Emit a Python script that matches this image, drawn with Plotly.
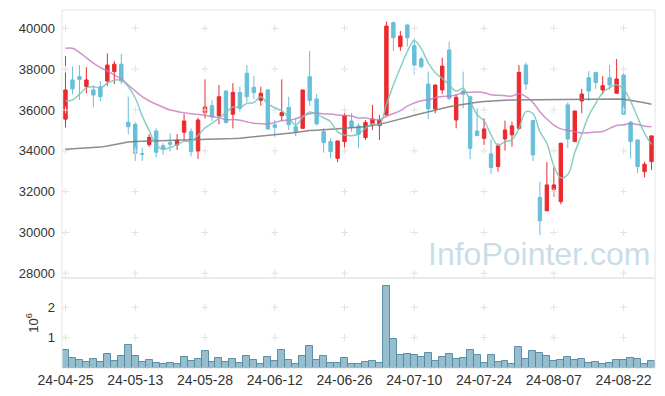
import plotly.graph_objects as go

dates = ["24-04-25","24-04-26","24-04-29","24-04-30","24-05-02","24-05-03","24-05-07","24-05-08","24-05-09","24-05-10",
         "24-05-13","24-05-14","24-05-16","24-05-17","24-05-20","24-05-21","24-05-22","24-05-23","24-05-24","24-05-27",
         "24-05-28","24-05-29","24-05-30","24-05-31","24-06-03","24-06-04","24-06-05","24-06-07","24-06-10","24-06-11",
         "24-06-12","24-06-13","24-06-14","24-06-17","24-06-18","24-06-19","24-06-20","24-06-21","24-06-24","24-06-25",
         "24-06-26","24-06-27","24-06-28","24-07-01","24-07-02","24-07-03","24-07-04","24-07-05","24-07-08","24-07-09",
         "24-07-10","24-07-11","24-07-12","24-07-15","24-07-16","24-07-17","24-07-18","24-07-19","24-07-22","24-07-23",
         "24-07-24","24-07-25","24-07-26","24-07-29","24-07-30","24-07-31","24-08-01","24-08-02","24-08-05","24-08-06",
         "24-08-07","24-08-08","24-08-09","24-08-12","24-08-13","24-08-14","24-08-16","24-08-19","24-08-20","24-08-21",
         "24-08-22","24-08-23","24-08-26","24-08-27","24-08-28"]

open_ = [35550, 37470, 37630, 37140, 36980, 37140, 37420, 37880, 38240, 35400,
         35300, 33860, 34300, 34970, 34250, 34400, 34290, 34910, 34940, 33990,
         35870, 36210, 35720, 36930, 35790, 36860, 37800, 37110, 36470, 36980,
         35270, 35720, 36130, 35180, 35100, 37630, 36540, 34940, 34450, 33630,
         34450, 35460, 35220, 34650, 35320, 35230, 35760, 40280, 39100, 40160,
         39150, 38500, 37270, 36050, 36980, 38940, 35510, 36930, 36650, 34970,
         34610, 33850, 33230, 34580, 34780, 35100, 38200, 35490, 31720, 31060,
         32100, 31510, 36250, 34450, 36440, 37580, 37830, 36980, 37580, 36820,
         37710, 35400, 34530, 32980, 33470]
high_ = [38650, 38120, 38200, 38090, 37220, 37420, 38770, 38400, 38740, 36650,
         35400, 34150, 34810, 35100, 34370, 34860, 34820, 35820, 35100, 35620,
         37500, 36490, 37220, 36950, 37310, 37140, 38200, 37660, 37140, 37030,
         35510, 37500, 36650, 35620, 36990, 38890, 36770, 35100, 34610, 34500,
         36000, 35840, 35350, 35510, 36250, 35760, 40330, 40330, 39870, 40190,
         39510, 38610, 37880, 37240, 38560, 39350, 36780, 37880, 36700, 36080,
         35590, 34560, 34370, 35480, 35430, 38200, 38320, 35500, 32490, 33440,
         33180, 34400, 36380, 35960, 37030, 37910, 37880, 37660, 38200, 38500,
         37800, 35460, 34550, 33470, 34740]
low_ = [35150, 36770, 36490, 36820, 36130, 36440, 37180, 37270, 37270, 34810,
        33500, 33500, 34200, 33670, 33800, 33960, 34040, 34520, 33720, 33600,
        35590, 35460, 35300, 35350, 35100, 35920, 36380, 36520, 36210, 35020,
        34690, 35460, 35020, 34730, 35100, 36210, 35230, 33910, 33630, 33440,
        33990, 34940, 34150, 34530, 35020, 34530, 35700, 38890, 38900, 39100,
        37750, 38040, 35560, 35840, 36780, 36490, 35100, 36080, 33590, 34740,
        34290, 32870, 32980, 34010, 34200, 35020, 36980, 33500, 29880, 31050,
        31760, 31380, 34120, 34440, 35840, 36440, 37030, 36770, 36980, 36800,
        35780, 33630, 32900, 32700, 33060]
close_ = [36980, 37030, 37500, 37470, 36730, 36650, 38200, 38240, 37420, 35180,
          33880, 33830, 34660, 33930, 34070, 34320, 34530, 35460, 33960, 35510,
          36150, 35670, 36650, 35380, 36860, 36080, 36650, 36850, 36820, 35070,
          35150, 35870, 35270, 34940, 36980, 36460, 35320, 34400, 33960, 34480,
          35720, 35140, 34810, 35380, 35560, 35510, 40110, 39540, 39620, 39540,
          38200, 38120, 36050, 37220, 38150, 36570, 36620, 36770, 34120, 34740,
          35070, 33180, 34240, 35020, 35220, 37840, 37270, 33800, 30570, 32330,
          32330, 34370, 34580, 35950, 36780, 36930, 37340, 37190, 37220, 37520,
          35790, 34450, 33230, 33340, 34730]

# volume in millions of shares
volume_m = [0.585, 0.332, 0.256, 0.19, 0.29, 0.19, 0.453, 0.223, 0.398, 0.75,
            0.398, 0.19, 0.256, 0.157, 0.125, 0.157, 0.125, 0.355, 0.223, 0.29,
            0.552, 0.19, 0.322, 0.19, 0.29, 0.157, 0.388, 0.256, 0.125, 0.355,
            0.223, 0.585, 0.256, 0.125, 0.388, 0.717, 0.256, 0.388, 0.157, 0.157,
            0.322, 0.125, 0.125, 0.19, 0.223, 0.157, 2.69, 0.947, 0.42, 0.453,
            0.42, 0.355, 0.486, 0.223, 0.355, 0.453, 0.29, 0.322, 0.585, 0.42,
            0.157, 0.42, 0.19, 0.223, 0.125, 0.684, 0.29, 0.552, 0.486, 0.388,
            0.223, 0.256, 0.355, 0.256, 0.29, 0.157, 0.19, 0.125, 0.157, 0.256,
            0.256, 0.322, 0.29, 0.125, 0.223]

ma5_head = [36460, 36490, 36770, 37090]
ma20_head = [39020, 39020, 38820, 38560, 38290, 38070, 37910, 37710, 37520, 37220,
             36930, 36650, 36440, 36280, 36130, 36000, 35930, 35870, 35820]
ma60 = [34080, 34095, 34110, 34130, 34150, 34180, 34230, 34300, 34380, 34430,
        34450, 34460, 34465, 34470, 34475, 34480, 34490, 34500, 34510, 34520,
        34530, 34550, 34570, 34590, 34600, 34620, 34650, 34690, 34730, 34770,
        34800, 34830, 34860, 34900, 34950, 34990, 35010, 35030, 35050, 35070,
        35090, 35110, 35150, 35190, 35230, 35300, 35380, 35460, 35550, 35640,
        35740, 35830, 35910, 35990, 36080, 36160, 36220, 36280, 36330, 36380,
        36420, 36450, 36470, 36480, 36490, 36495, 36500, 36500, 36500, 36505,
        36510, 36510, 36515, 36520, 36525, 36530, 36535, 36540, 36540, 36540,
        36530, 36480, 36420, 36350, 36280]

price_ticks = [28000, 30000, 32000, 34000, 36000, 38000, 40000]
price_tick_labels = ["28000", "30000", "32000", "34000", "36000", "38000", "40000"]
volume_ticks = [1, 2]
volume_tick_labels = ["1", "2"]
x_ticks = dates[::10]


def moving_avg(values, n, head):
    out = list(head)
    for i in range(len(head), len(values)):
        w = values[i - n + 1:i + 1]
        out.append(sum(w) / len(w))
    return out


ma5 = moving_avg(close_, 5, ma5_head)
ma20 = moving_avg(close_, 20, ma20_head)

RED = "#ea2a2f"
BLUE = "#67bfd9"
GRID = "#e2e2e2"
FONT = "Liberation Sans"

fig = go.Figure()

# grid "+" markers
gx, gy = [], []
for xv in x_ticks:
    for yv in price_ticks:
        gx.append(xv); gy.append(yv)
fig.add_trace(go.Scatter(x=gx, y=gy, mode="markers", yaxis="y",
                         marker=dict(symbol="cross-thin", size=5, line=dict(width=1, color=GRID)),
                         hoverinfo="skip", showlegend=False))
vx, vy = [], []
for xv in x_ticks:
    for yv in volume_ticks:
        vx.append(xv); vy.append(yv)
fig.add_trace(go.Scatter(x=vx, y=vy, mode="markers", yaxis="y2",
                         marker=dict(symbol="cross-thin", size=5, line=dict(width=1, color=GRID)),
                         hoverinfo="skip", showlegend=False))

fig.add_trace(go.Scatter(x=dates, y=ma60, mode="lines", yaxis="y",
                         line=dict(color="rgba(120,120,120,0.85)", width=1.5), showlegend=False))
fig.add_trace(go.Scatter(x=dates, y=ma20, mode="lines", yaxis="y",
                         line=dict(color="rgba(196,120,190,0.8)", width=1.5, shape="spline"), showlegend=False))
fig.add_trace(go.Scatter(x=dates, y=ma5, mode="lines", yaxis="y",
                         line=dict(color="rgba(120,196,184,0.85)", width=1.5, shape="spline"), showlegend=False))

fig.add_trace(go.Candlestick(x=dates, open=open_, high=high_, low=low_, close=close_, yaxis="y",
                             increasing=dict(line=dict(color=RED, width=1), fillcolor=RED),
                             decreasing=dict(line=dict(color=BLUE, width=1), fillcolor=BLUE),
                             whiskerwidth=0, showlegend=False))

fig.add_trace(go.Bar(x=dates, y=volume_m, yaxis="y2",
                     marker=dict(color="rgba(150,190,207,1)", line=dict(color="rgba(80,135,160,0.9)", width=1)),
                     showlegend=False))

dom = 90 / 358

fig.update_layout(
    width=665, height=396,
    margin=dict(l=62, r=10, t=10, b=28),
    paper_bgcolor="white", plot_bgcolor="white",
    font=dict(family=FONT, size=13, color="#333"),
    bargap=0.0, boxgap=0.3,
    hovermode=False,
    xaxis=dict(type="category", categoryorder="array", categoryarray=dates,
               range=[-0.5, len(dates) - 0.5], anchor="y2", automargin=False,
               tickmode="array", tickvals=x_ticks, ticktext=x_ticks,
               showgrid=False, zeroline=False, showline=False, ticks="",
               rangeslider=dict(visible=False), ticklabelstandoff=2,
               tickfont=dict(size=14, color="#333")),
    yaxis=dict(domain=[dom, 1], range=[27770, 40896], automargin=False,
               tickmode="array", tickvals=price_ticks, ticktext=price_tick_labels,
               showgrid=False, zeroline=False, showline=False, ticks="",
               ticklabelstandoff=6, tickfont=dict(size=13, color="#333")),
    yaxis2=dict(domain=[0, dom], range=[0, 2.964], automargin=False,
                tickmode="array", tickvals=volume_ticks, ticktext=volume_tick_labels,
                showgrid=False, zeroline=False, showline=False, ticks="",
                ticklabelstandoff=6, tickfont=dict(size=13, color="#333"),
                title=dict(text="10<sup>6</sup>", standoff=6, font=dict(size=13, color="#333"))),
    shapes=[
        dict(type="rect", xref="paper", yref="paper", x0=0, x1=1, y0=dom, y1=1,
             line=dict(color="#e4e4e4", width=1)),
        dict(type="rect", xref="paper", yref="paper", x0=0, x1=1, y0=0, y1=dom,
             line=dict(color="#e4e4e4", width=1)),
    ],
    annotations=[
        dict(text="InfoPointer.com", xref="paper", yref="paper", x=0.805, y=dom + 0.012,
             xanchor="center", yanchor="bottom", showarrow=False,
             font=dict(family=FONT, size=32, color="rgba(165,198,218,0.6)")),
    ],
)

fig.write_html("out.html", config={"displayModeBar": False},
               post_script="document.body.style.margin='0';document.body.style.padding='0';")
